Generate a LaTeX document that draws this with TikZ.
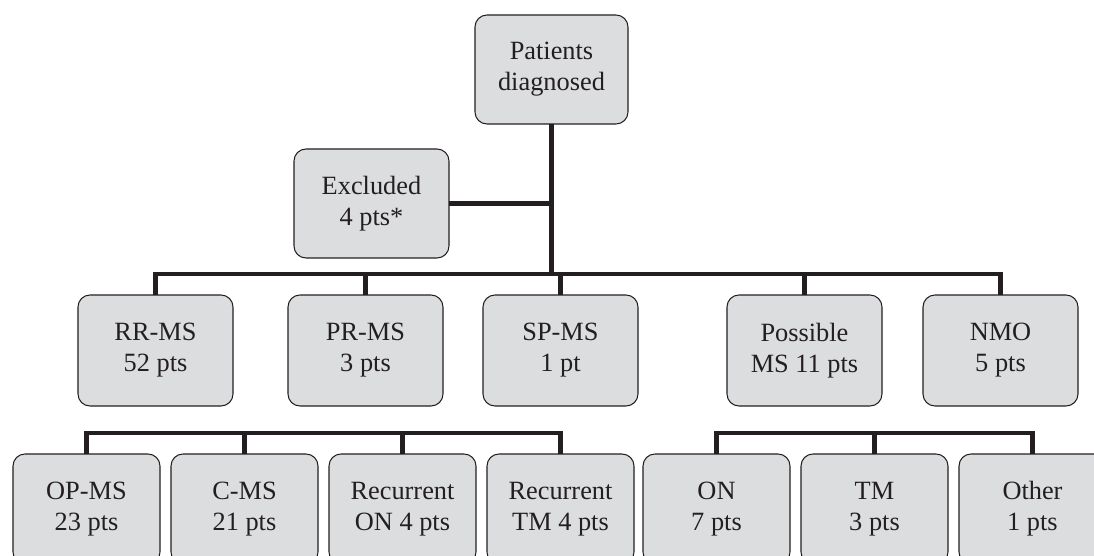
\documentclass[tikz,border=0pt]{standalone}
\usepackage{fontspec}
\setmainfont{Liberation Serif}
\usepackage{xcolor}
\usetikzlibrary{positioning}
\definecolor{boxgray}{RGB}{220,221,223}
\definecolor{inkdark}{RGB}{35,31,32}

\begin{document}
\begin{tikzpicture}[node distance=0.22cm,
    box/.style={draw=inkdark, line width=0.6pt, fill=boxgray, rounded corners=0.24cm,
        minimum width=3.1cm, minimum height=2.22cm, inner sep=0pt, outer sep=0pt,
        align=center, text=inkdark, font=\fontsize{15}{17.6}\selectfont},
    subbox/.style={box, minimum width=2.94cm, minimum height=2.2cm},
    link/.style={draw=inkdark, line width=2.3pt}]
    \clip (0,0) rectangle (21.88,-11.12);

    \node[box, minimum width=3.06cm, minimum height=2.18cm] (P) at (11.03,-1.39) {Patients\\diagnosed};
    \node[box, minimum height=2.18cm, below left=0.5cm and 0.52cm of P] (E) {Excluded\\4 pts*};
    \node[box, below right=0.74cm and 0.68cm of E] (SP) {SP-MS\\1 pt};
    \node[box, left=0.8cm of SP] (PR) {PR-MS\\3 pts};
    \node[box, left=1.1cm of PR] (RR) {RR-MS\\52 pts};
    \node[box, right=1.78cm of SP] (PMS) {Possible\\MS 11 pts};
    \node[box, right=0.82cm of PMS] (NMO) {NMO\\5 pts};

    \node[subbox, below=0.96cm of RR, xshift=-1.38cm] (OP) {OP-MS\\23 pts};
    \node[subbox, right=of OP] (CMS) {C-MS\\21 pts};
    \node[subbox, right=of CMS] (RON) {Recurrent\\ON 4 pts};
    \node[subbox, right=of RON] (RTM) {Recurrent\\TM 4 pts};
    \node[subbox, right=0.18cm of RTM] (ON) {ON\\7 pts};
    \node[subbox, right=of ON] (TM) {TM\\3 pts};
    \node[subbox, right=of TM] (OTH) {Other\\1 pts};

    % tree links
    \coordinate[below=3cm of P] (J);
    \draw[link] (P) -- (J);
    \draw[link] (E) -- (E -| J);
    \draw[link] (RR.north) |- (J) -| (NMO.north);
    \foreach \n in {PR,SP,PMS}
        \draw[link] (\n.north) -- (\n.north |- J);

    \coordinate[below=0.54cm of RR] (K);
    \draw[link] (OP.north) |- (K) -| (RTM.north);
    \foreach \n in {CMS,RON}
        \draw[link] (\n.north) -- (\n.north |- K);
    \draw[link] (ON.north) |- (K -| TM.north) -| (OTH.north);
    \draw[link] (TM.north) -- (TM.north |- K);
\end{tikzpicture}
\end{document}
